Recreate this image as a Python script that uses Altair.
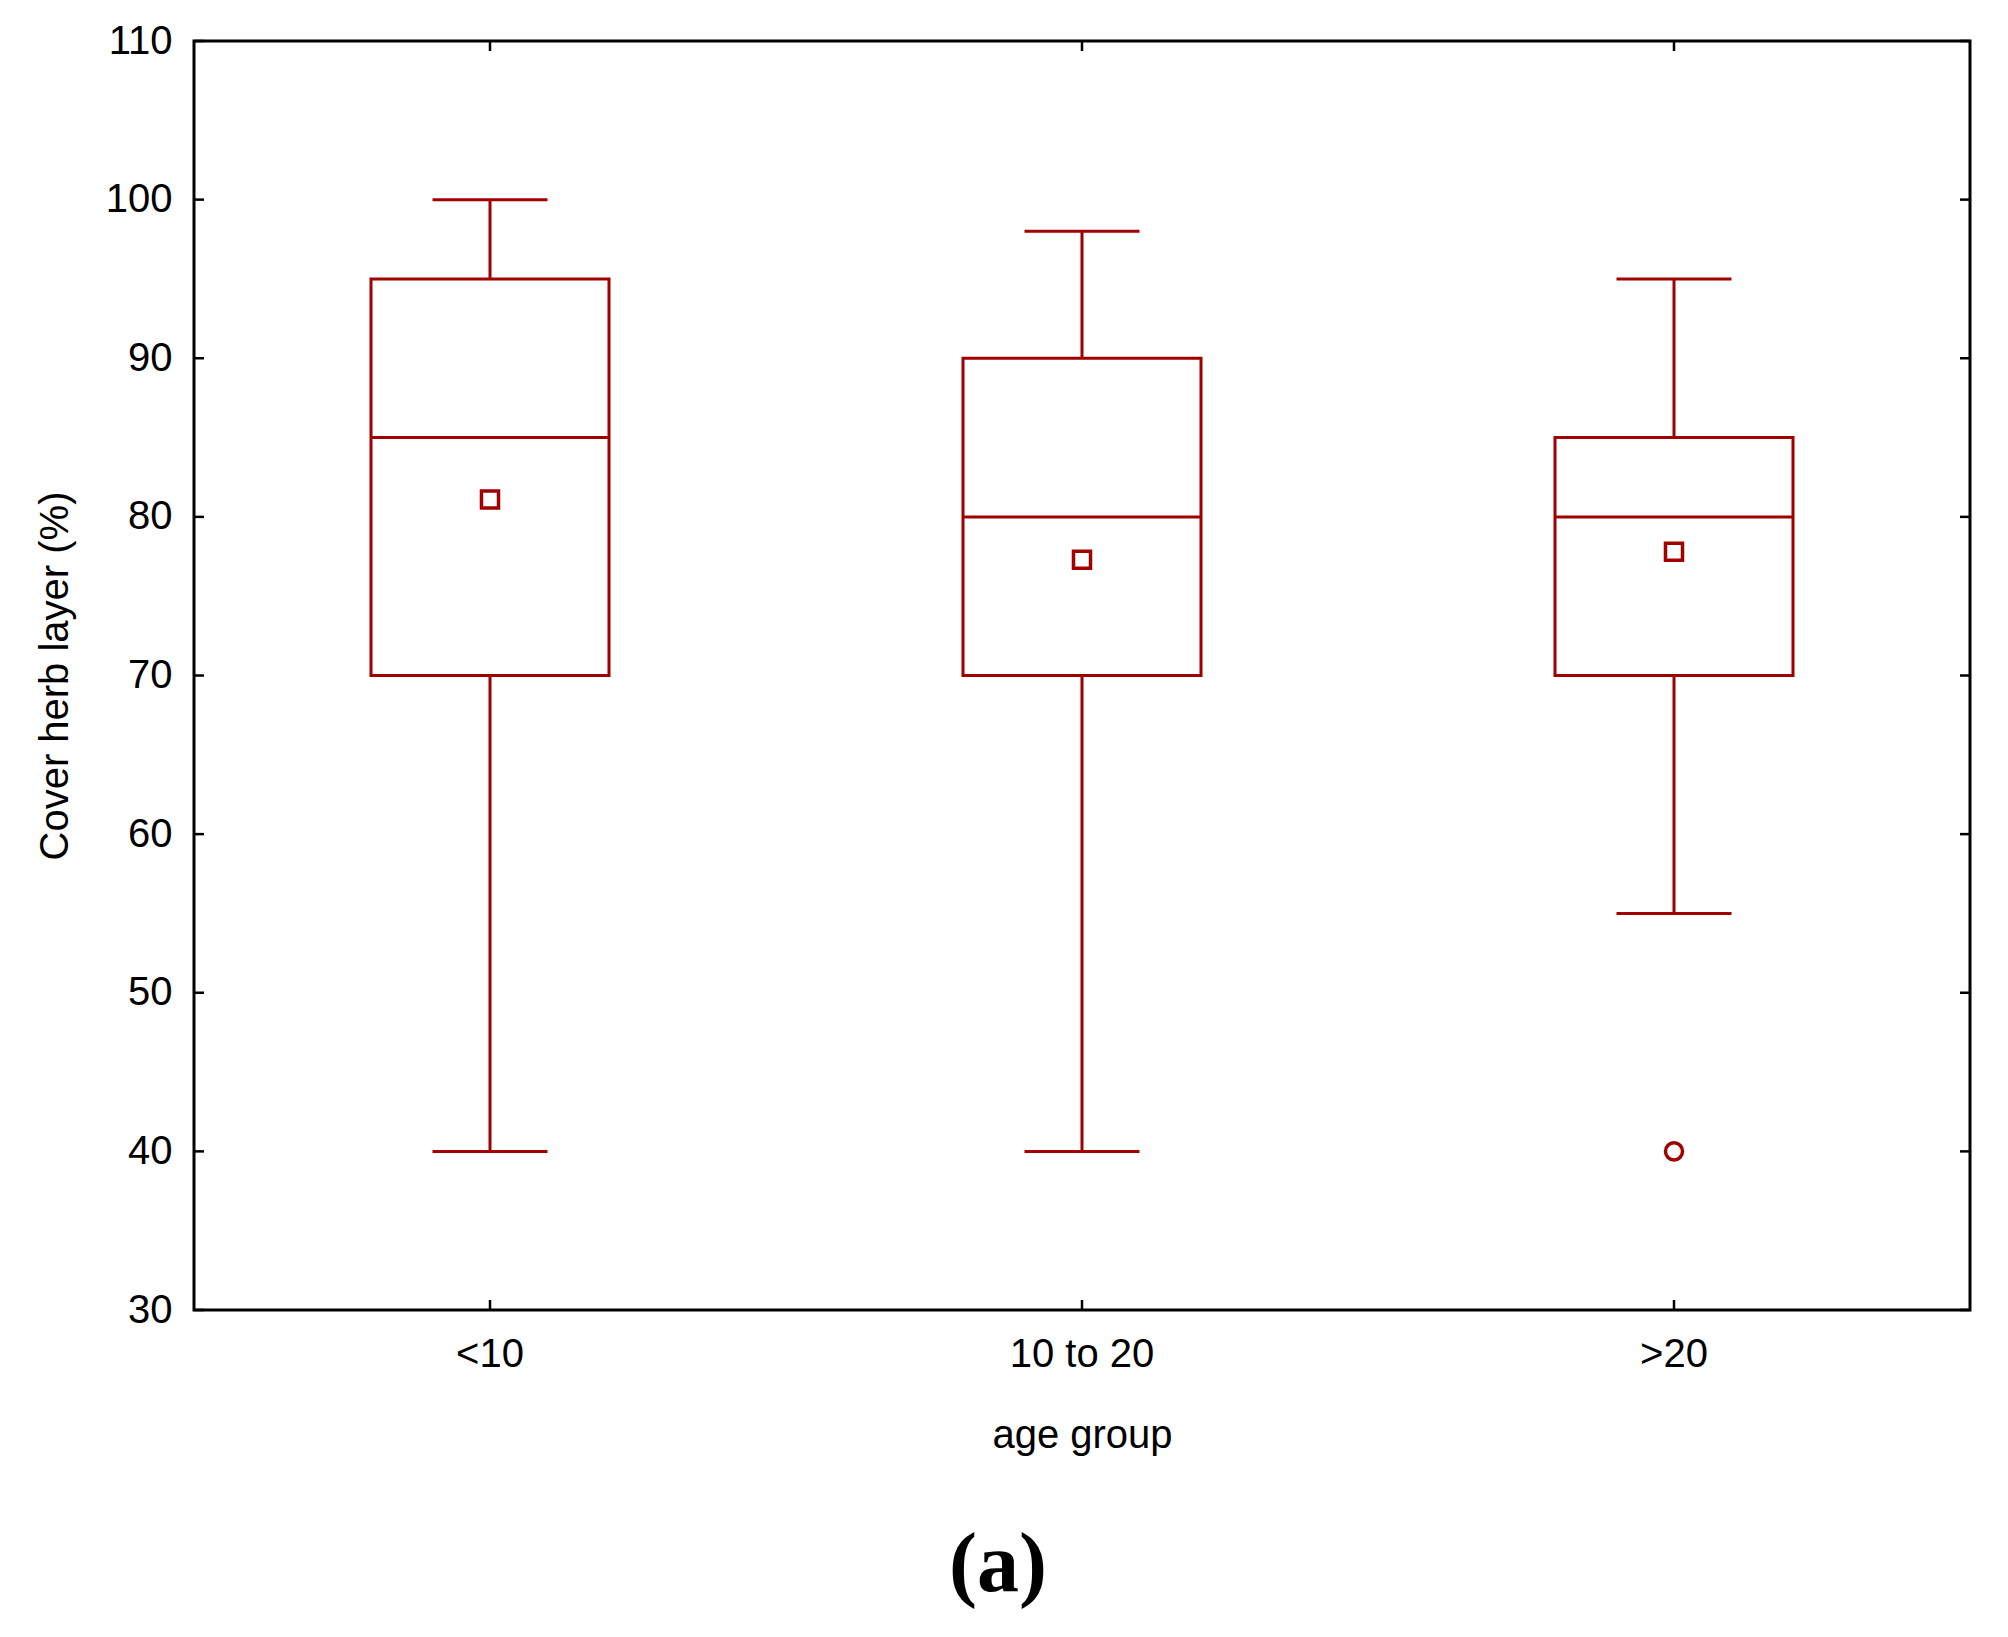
import altair as alt
import pandas as pd

# ---- data ----
categories = ["<10", "10 to 20", ">20"]
whisker_low = [40, 40, 55]
q1 = [70, 70, 70]
median = [85, 80, 80]
q3 = [95, 90, 85]
whisker_high = [100, 98, 95]
means = [81.1, 77.3, 77.8]
outlier_cat = [">20"]
outlier_val = [40]
y_ticks = [30, 40, 50, 60, 70, 80, 90, 100, 110]

W, H = 1776, 1269
COLOR = "#a00000"
FONT = "Liberation Sans"

df = pd.DataFrame({
    "cat": categories, "wl": whisker_low, "q1": q1, "med": median,
    "q3": q3, "wh": whisker_high, "mean": means,
})
out_df = pd.DataFrame({"cat": outlier_cat, "val": outlier_val})
tick_df = pd.DataFrame({"tv": y_ticks})

xscale = alt.Scale(domain=categories, paddingInner=0, paddingOuter=0)
yscale = alt.Scale(domain=[30, 110], nice=False, zero=False)

xaxis = alt.Axis(title="age group", labelAngle=0, ticks=False, tickSize=0, domain=False,
                 grid=False, labelFont=FONT, labelFontSize=40, labelColor="black",
                 labelPadding=24, titleFont=FONT, titleFontSize=40,
                 titleFontWeight="normal", titleColor="black", titlePadding=41)
yaxis = alt.Axis(title="Cover herb layer (%)", values=y_ticks, ticks=False, tickSize=0,
                 domain=False, grid=False, labelFont=FONT, labelFontSize=40,
                 labelColor="black", labelPadding=22, titleFont=FONT, titleFontSize=40,
                 titleFontWeight="normal", titleColor="black", titlePadding=30)


def X():
    return alt.X("cat:N", sort=categories, scale=xscale, axis=xaxis)


def Y(field):
    return alt.Y(f"{field}:Q", scale=yscale, axis=yaxis)


base = alt.Chart(df)

box = base.mark_bar(fill="white", stroke=COLOR, strokeWidth=3, width=238).encode(
    x=X(), y=Y("q1"), y2="q3")
wlo = base.mark_rule(color=COLOR, strokeWidth=3).encode(x=X(), y=Y("wl"), y2="q1")
whi = base.mark_rule(color=COLOR, strokeWidth=3).encode(x=X(), y=Y("q3"), y2="wh")
cap_lo = base.mark_tick(color=COLOR, orient="horizontal", size=115, thickness=3, opacity=1).encode(
    x=X(), y=Y("wl"))
cap_hi = base.mark_tick(color=COLOR, orient="horizontal", size=115, thickness=3, opacity=1).encode(
    x=X(), y=Y("wh"))
med = base.mark_tick(color=COLOR, orient="horizontal", size=238, thickness=3, opacity=1).encode(
    x=X(), y=Y("med"))
mean_pt = base.mark_point(shape="square", size=290, filled=False, color=COLOR,
                          strokeWidth=3.5, opacity=1).encode(x=X(), y=Y("mean"))
outl = alt.Chart(out_df).mark_point(shape="circle", size=290, filled=False, color=COLOR,
                                    strokeWidth=3.5, opacity=1).encode(x=X(), y=Y("val"))

# inward tick marks on all four sides of the frame
tl = alt.Chart(tick_df).mark_rule(color="black", strokeWidth=2.5).encode(
    y=Y("tv"), x=alt.value(0), x2=alt.value(10))
tr = alt.Chart(tick_df).mark_rule(color="black", strokeWidth=2.5).encode(
    y=Y("tv"), x=alt.value(W - 10), x2=alt.value(W))
tb = base.mark_rule(color="black", strokeWidth=2.5).encode(
    x=X(), y=alt.value(H - 10), y2=alt.value(H))
tt = base.mark_rule(color="black", strokeWidth=2.5).encode(
    x=X(), y=alt.value(0), y2=alt.value(10))

chart = alt.layer(box, wlo, whi, cap_lo, cap_hi, med, mean_pt, outl, tl, tr, tb, tt).properties(
    width=W, height=H,
    autosize=alt.AutoSizeParams(type="none"),
    padding={"left": 186, "top": 33, "right": 22, "bottom": 311},
    title=alt.TitleParams("(a)", orient="bottom", font="Liberation Serif", fontSize=84,
                          fontWeight="bold", color="black", dx=-84, offset=70),
).configure(background="white").configure_view(stroke="black", strokeWidth=3, strokeOpacity=1)

chart.save("out.html", embed_options={"renderer": "svg", "actions": False})
